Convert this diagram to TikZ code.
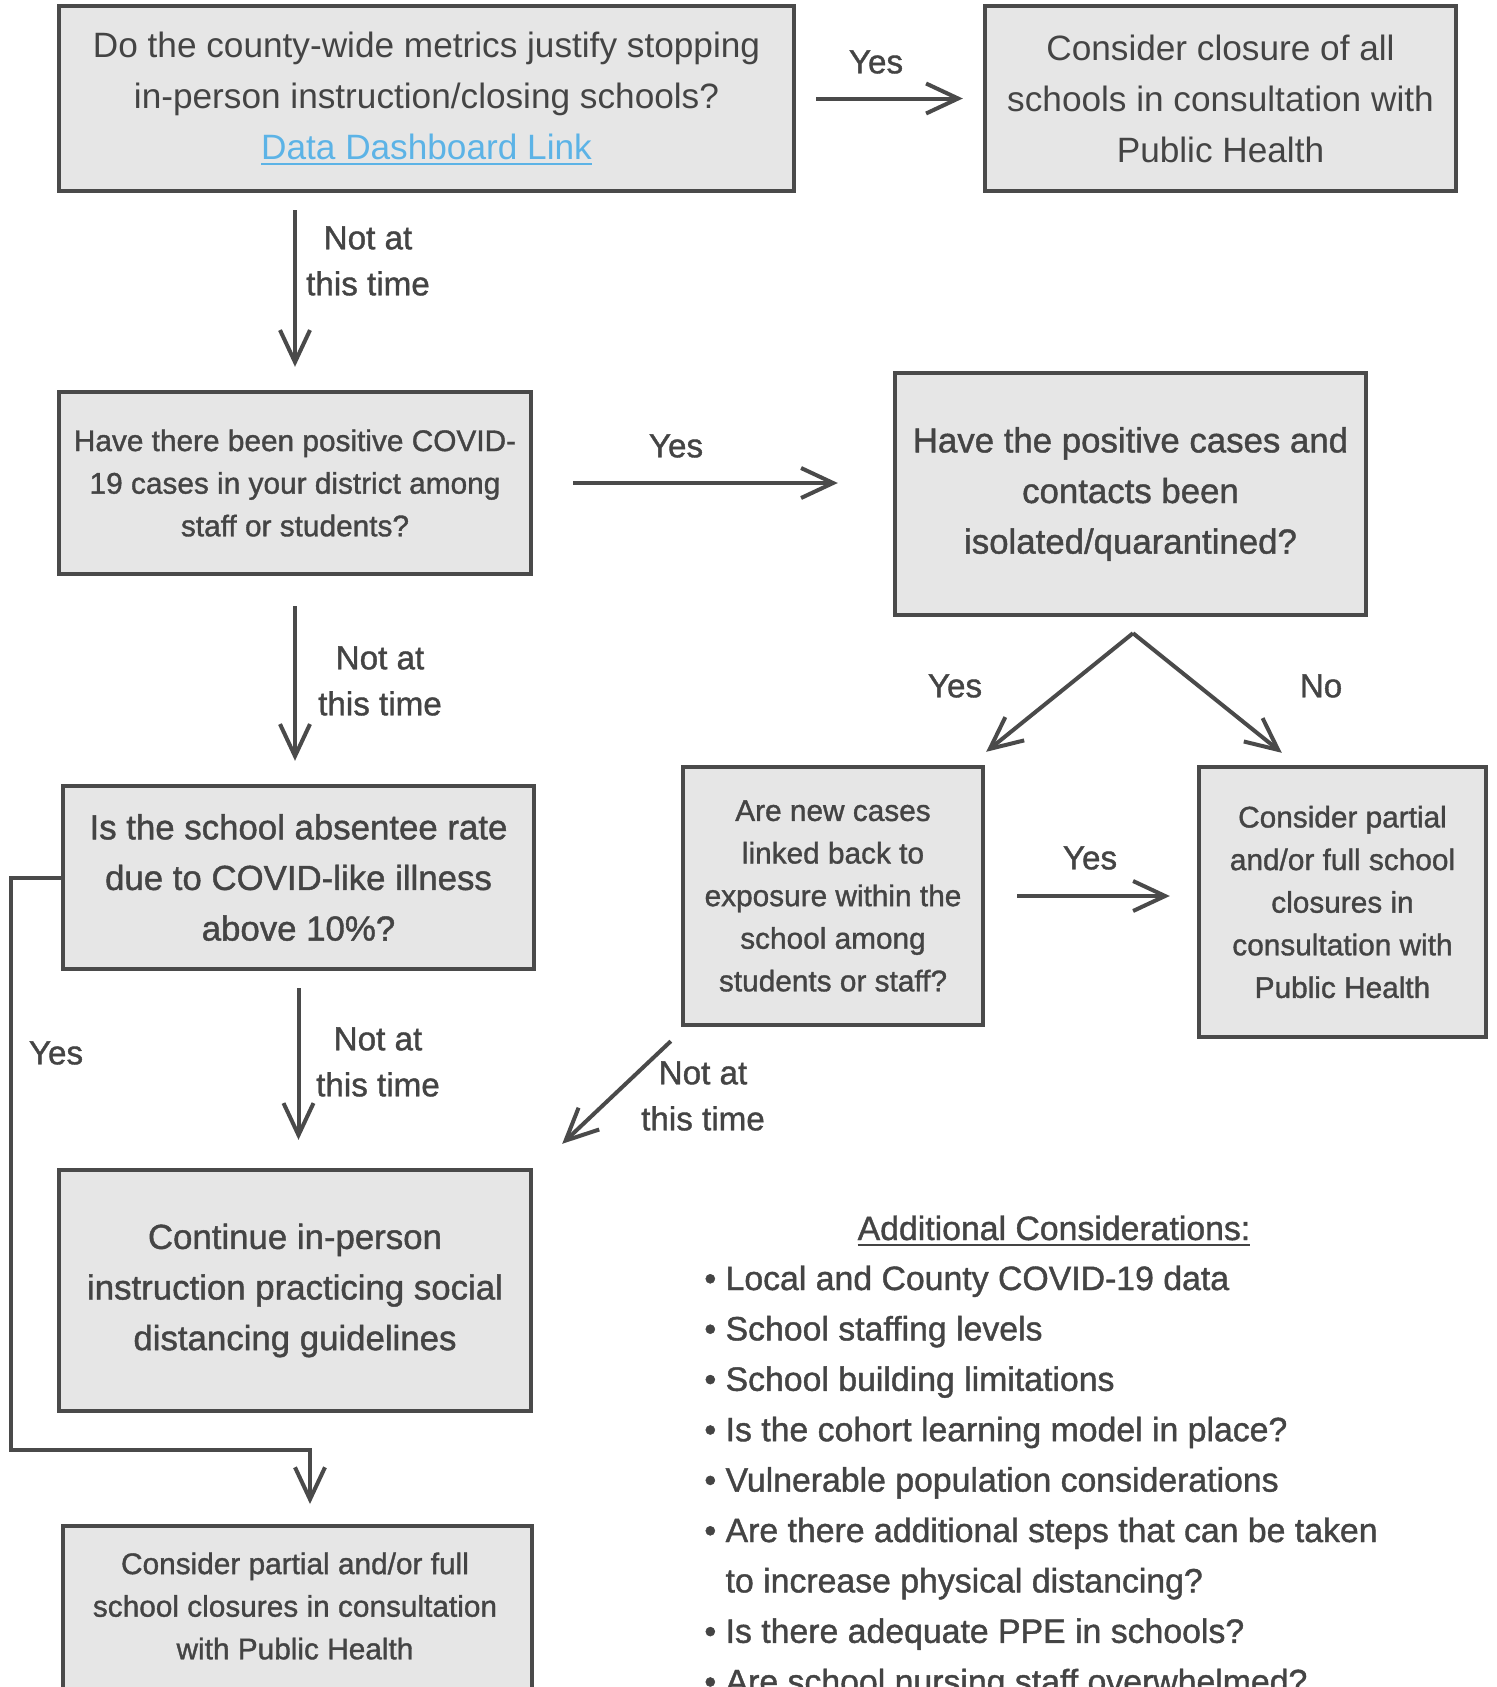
\documentclass[tikz,border=0pt]{standalone}
\usepackage{fontspec}
\setmainfont{Liberation Sans}
\newfontfamily\medfont[FakeBold=1.2]{Liberation Sans}
\usetikzlibrary{arrows.meta,calc}
\definecolor{boxfill}{HTML}{E6E6E6}
\definecolor{linegray}{HTML}{4A4A4A}
\definecolor{txtgray}{HTML}{444444}
\definecolor{linkblue}{HTML}{5CB3E6}
\newcommand{\ulbox}[1]{\leavevmode\setbox0\hbox{#1}\rlap{\rule[-3pt]{\wd0}{1.1pt}}\box0}

\begin{document}
\begin{tikzpicture}[x=0.5pt, y=-0.5pt,
    box/.style={draw=linegray, line width=2.2pt, fill=boxfill, align=center, text=txtgray, inner sep=4pt},
    bigtxt/.style={font=\fontsize{17.6}{25.5}\selectfont},
    medtxt/.style={font=\medfont\fontsize{17.4}{25.3}\selectfont},
    smalltxt/.style={font=\medfont\fontsize{14.9}{21.3}\selectfont},
    lbl/.style={font=\medfont\fontsize{16.6}{23}\selectfont, align=center, text=txtgray},
    bulletline/.style={font=\medfont\fontsize{16.9}{23}\selectfont, text=txtgray, inner sep=0pt},
    arr/.style={draw=linegray, line width=2pt, -{Straight Barb[length=16pt, width=15pt]}}]
  \useasboundingbox (0,0) rectangle (1496,1687);
  \clip (0,0) rectangle (1496,1687);

  % questions and outcomes
  \node[box, bigtxt, minimum width=367.5pt, minimum height=92.5pt] (q1) at (426.5,98.5)
    {Do the county-wide metrics justify stopping\\ in-person instruction/closing schools?\\ {\color{linkblue}\ulbox{Data Dashboard Link}}};
  \node[box, bigtxt, minimum width=235.5pt, minimum height=92.5pt] (a1) at (1220.5,98.5)
    {Consider closure of all\\ schools in consultation with\\ Public Health};
  \node[box, smalltxt, minimum width=236pt, minimum height=91pt] (q2) at (295,483)
    {Have there been positive COVID-\\ 19 cases in your district among\\ staff or students?};
  \node[box, medtxt, minimum width=235.5pt, minimum height=121pt] (q3) at (1130.5,494)
    {Have the positive cases and\\ contacts been\\ isolated/quarantined?};
  \node[box, medtxt, minimum width=235.5pt, minimum height=91.5pt] (q4) at (298.5,877.5)
    {Is the school absentee rate\\ due to COVID-like illness\\ above 10\%?};
  \node[box, smalltxt, minimum width=150pt, minimum height=129pt] (q5) at (833,896)
    {Are new cases\\ linked back to\\ exposure within the\\ school among\\ students or staff?};
  \node[box, smalltxt, minimum width=143.5pt, minimum height=135pt] (a2) at (1342.5,902)
    {Consider partial\\ and/or full school\\ closures in\\ consultation with\\ Public Health};
  \node[box, medtxt, minimum width=236pt, minimum height=120.5pt] (a3) at (295,1290.5)
    {Continue in-person\\ instruction practicing social\\ distancing guidelines};
  \node[box, minimum width=234.5pt, minimum height=150pt, anchor=north] (a4) at (297.5,1524) {};
  \node[smalltxt, align=center, text=txtgray] (a4txt) at (295,1606)
    {Consider partial and/or full\\ school closures in consultation\\ with Public Health};

  % connectors
  \coordinate (split) at ($(q3.south)+(2.5,16)$);
  \coordinate (loop) at (11,1450);
  \draw[arr, shorten <=10pt, shorten >=10pt] (q1) -- (a1);
  \draw[arr, shorten <=8.5pt, shorten >=11.5pt] (q1.south -| q2.north) -- (q2.north);
  \draw[arr, shorten <=20pt, shorten >=27.5pt] (q2.east) -- (q2.east -| q3.west);
  \draw[arr, shorten <=15pt, shorten >=11.5pt] (q2.south) -- (q2.south |- q4.north);
  \draw[arr] (split) -- ($(q5.north east)+(1,-13)$);
  \draw[arr] (split) -- ($(a2.north west)+(85,-12)$);
  \draw[arr, shorten <=16pt, shorten >=13.5pt] (q5.east) -- (q5.east -| a2.west);
  \draw[arr] ($(q5.south west)+(-10,14)$) -- ($(a3.north east)+(29,-24)$);
  \draw[arr, shorten <=8.5pt, shorten >=14pt] (q4.south) -- (q4.south |- a3.north);
  \draw[arr] (q4.west) -| (loop) -| ($(a4.north)+(12.5,-20)$);

  % answers on the connectors
  \foreach \x/\y/\t [count=\i] in {876/62/Yes, 368/261/{Not at\\this time}, 676/446/Yes,
      380/681/{Not at\\this time}, 955/686/Yes, 1321/686/No, 1090/858/Yes,
      703/1096/{Not at\\this time}, 378/1062/{Not at\\this time}, 56/1053/Yes}
    \node[lbl] (lbl\i) at (\x,\y) {\t};

  % additional considerations
  \def \Items {
    {\textbullet}/{Local and County COVID-19 data},
    {\textbullet}/{School staffing levels},
    {\textbullet}/{School building limitations},
    {\textbullet}/{Is the cohort learning model in place?},
    {\textbullet}/{Vulnerable population considerations},
    {\textbullet}/{Are there additional steps that can be taken},
    {\phantom{\textbullet}}/{to increase physical distancing?},
    {\textbullet}/{Is there adequate PPE in schools?},
    {\textbullet}/{Are school nursing staff overwhelmed?}}
  \node[bulletline, anchor=base] (addtitle) at (1054,1240) {\ulbox{Additional Considerations:}};
  \foreach \mk/\txt [count=\i] in \Items
    \node[bulletline, anchor=base west] (item\i) at (704,{1290+50.4*(\i-1)}) {\mk\ \txt};
\end{tikzpicture}
\end{document}
